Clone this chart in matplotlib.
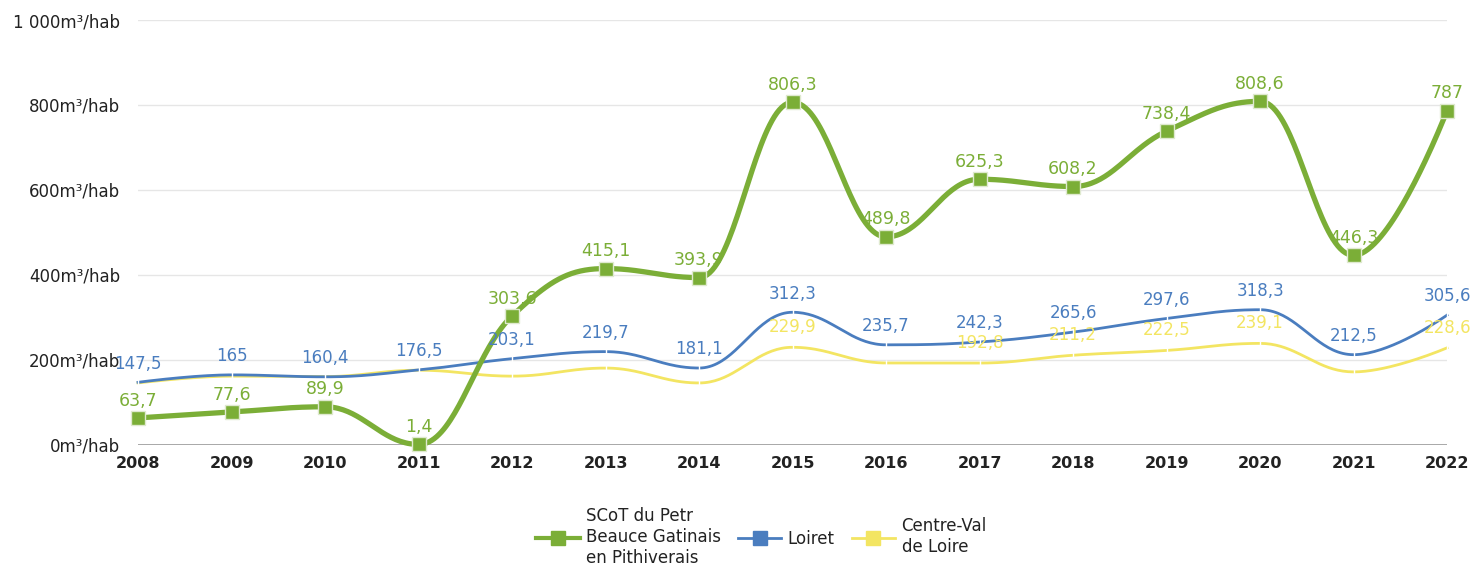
import numpy as np
import matplotlib
matplotlib.use("Agg")
import matplotlib.pyplot as plt
from matplotlib.lines import Line2D

years = list(range(2008, 2023))
scot = [63.7, 77.6, 89.9, 1.4, 303.6, 415.1, 393.9, 806.3, 489.8, 625.3, 608.2, 738.4, 808.6, 446.3, 787]
loiret = [147.5, 165, 160.4, 176.5, 203.1, 219.7, 181.1, 312.3, 235.7, 242.3, 265.6, 297.6, 318.3, 212.5, 305.6]
centre = [146, 162, 161, 176, 162, 181, 146, 229.9, 193, 192.8, 211.2, 222.5, 239.1, 172, 228.6]
# labels shown for the regional series (others hidden behind Loiret labels)
centre_labelled = [2015, 2017, 2018, 2019, 2020, 2022]
series_names = ["SCoT du Petr\nBeauce Gatinais\nen Pithiverais", "Loiret", "Centre-Val\nde Loire"]
yticks = [0, 200, 400, 600, 800, 1000]
ytick_labels = ["0m³/hab", "200m³/hab", "400m³/hab", "600m³/hab", "800m³/hab", "1 000m³/hab"]

GREEN = "#7bae37"
BLUE = "#4a7dbf"
YELLOW = "#f3e562"


def spline(x, y, n=40, smoothing=1.5):
    """Cubic Bezier spline with control points kept between neighbours (no false extremes)."""
    x = np.asarray(x, float)
    y = np.asarray(y, float)
    m = len(x)
    lcx, lcy = x.copy(), y.copy()
    rcx, rcy = x.copy(), y.copy()
    d = smoothing + 1
    for i in range(1, m - 1):
        lx = (smoothing * x[i] + x[i - 1]) / d
        ly = (smoothing * y[i] + y[i - 1]) / d
        rx = (smoothing * x[i] + x[i + 1]) / d
        ry = (smoothing * y[i] + y[i + 1]) / d
        corr = 0.0
        if rx != lx:
            corr = (ry - ly) * (rx - x[i]) / (rx - lx) + y[i] - ry
        ly += corr
        ry += corr
        if ly > y[i - 1] and ly > y[i]:
            ly = max(y[i - 1], y[i]); ry = 2 * y[i] - ly
        elif ly < y[i - 1] and ly < y[i]:
            ly = min(y[i - 1], y[i]); ry = 2 * y[i] - ly
        if ry > y[i + 1] and ry > y[i]:
            ry = max(y[i + 1], y[i]); ly = 2 * y[i] - ry
        elif ry < y[i + 1] and ry < y[i]:
            ry = min(y[i + 1], y[i]); ly = 2 * y[i] - ry
        lcx[i], lcy[i], rcx[i], rcy[i] = lx, ly, rx, ry
    t = np.linspace(0, 1, n, endpoint=False)[:, None]
    out = []
    for i in range(m - 1):
        P = np.array([[x[i], y[i]], [rcx[i], rcy[i]], [lcx[i + 1], lcy[i + 1]], [x[i + 1], y[i + 1]]])
        B = ((1 - t) ** 3) * P[0] + 3 * ((1 - t) ** 2) * t * P[1] + 3 * (1 - t) * t * t * P[2] + t ** 3 * P[3]
        out.append(B)
    out.append(np.array([[x[-1], y[-1]]]))
    pts = np.vstack(out)
    return pts[:, 0], pts[:, 1]


def fmt(v):
    s = f"{v:.1f}".replace(".", ",")
    return s[:-2] if s.endswith(",0") else s


plt.rcParams["font.family"] = ["DejaVu Sans"]
fig = plt.figure(figsize=(14.7, 5.65), dpi=100)
ax = fig.add_axes([0.0939, 0.2124, 0.8905, 0.7522])
ax.set_xlim(2008, 2022)
ax.set_ylim(0, 1000)

for yv in yticks[1:]:
    ax.axhline(yv, color="#e6e6e6", lw=1, zorder=0)
ax.axhline(0, color="#999999", lw=1.2, zorder=1)
for s in ax.spines.values():
    s.set_visible(False)

ax.set_yticks(yticks)
ax.set_yticklabels(ytick_labels, fontsize=12, color="#222222")
ax.set_xticks(years)
ax.set_xticklabels([str(y) for y in years], fontsize=11.5, fontweight="bold", color="#222222")
ax.tick_params(axis="both", length=0)
ax.tick_params(axis="y", pad=13)
ax.tick_params(axis="x", pad=8)

# regional and departmental series
sx, sy = spline(years, centre)
ax.plot(sx, sy, color=YELLOW, lw=2, zorder=2, clip_on=False)
ax.plot(years, centre, ls="none", marker="|", ms=4, mew=1, color="white", zorder=3, clip_on=False)
sx, sy = spline(years, loiret)
ax.plot(sx, sy, color=BLUE, lw=2, zorder=3, clip_on=False)
ax.plot(years, loiret, ls="none", marker="|", ms=4, mew=1, color="white", zorder=4, clip_on=False)

# SCoT series
sx, sy = spline(years, scot)
ax.plot(sx, sy, color=GREEN, lw=3.8, zorder=5, clip_on=False)
ax.plot(years, scot, ls="none", marker="s", ms=9.5, mfc=GREEN, mec="#dfe9cf", mew=1, zorder=6, clip_on=False)

for x, v in zip(years, centre):
    if x in centre_labelled:
        ax.annotate(fmt(v), (x, v), xytext=(0, 8), textcoords="offset points",
                    ha="center", va="bottom", fontsize=12, color=YELLOW, zorder=7)
for x, v in zip(years, loiret):
    ax.annotate(fmt(v), (x, v), xytext=(0, 7), textcoords="offset points",
                ha="center", va="bottom", fontsize=12, color=BLUE, zorder=8)
for x, v in zip(years, scot):
    ax.annotate(fmt(v), (x, v), xytext=(0, 6), textcoords="offset points",
                ha="center", va="bottom", fontsize=12.5, color=GREEN, zorder=9)

handles = [
    Line2D([], [], color=GREEN, lw=3, marker="s", ms=10, mfc=GREEN, mec=GREEN),
    Line2D([], [], color=BLUE, lw=2, marker="s", ms=10, mfc=BLUE, mec=BLUE),
    Line2D([], [], color=YELLOW, lw=2, marker="s", ms=10, mfc=YELLOW, mec=YELLOW),
]
fig.legend(handles, series_names, loc="center", bbox_to_anchor=(0.518, 0.05), ncol=3,
           frameon=False, fontsize=12, handlelength=2.6, handletextpad=0.4, columnspacing=1.0,
           labelcolor="#222222")

fig.savefig("out.png", dpi=100, facecolor="white")
